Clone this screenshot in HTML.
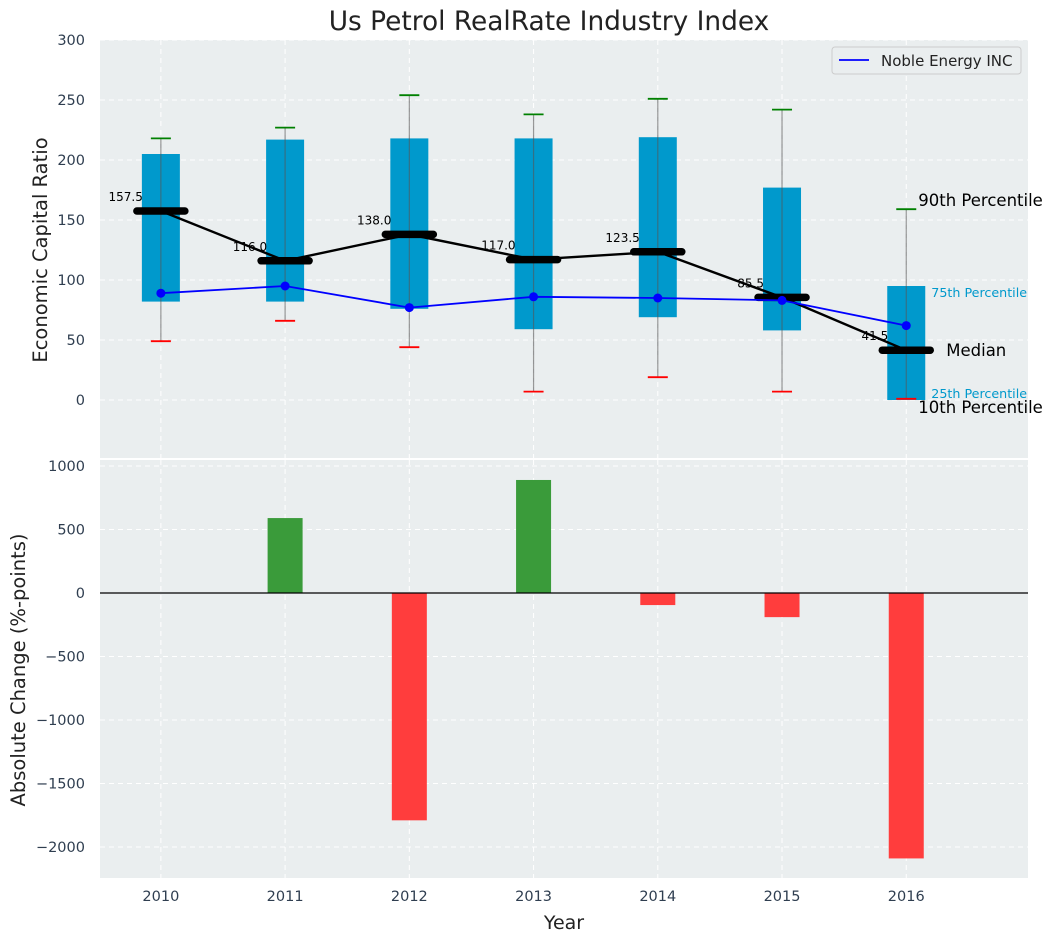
<!DOCTYPE html>
<html><head><meta charset="utf-8"><style>
body{margin:0;background:#fff;}
svg text{font-family:"DejaVu Sans","Liberation Sans",sans-serif;}
</style></head><body>
<svg id="c" width="1053" height="942" xmlns="http://www.w3.org/2000/svg"></svg>
<script>
const years=[2010,2011,2012,2013,2014,2015,2016];
const q25=[82,82,76,59,69,58,0];
const q75=[205,217,218,218,219,177,95];
const p90=[218,227,254,238,251,242,159];
const p10=[49,66,44,7,19,7,1];
const medians=[157.5,116,138,117,123.5,85.5,41.5];
const noble=[89,95,77,86,85,83,62];
const changes=[0,590,-1790,890,-95,-190,-2090];
const topTicks=[0,50,100,150,200,250,300];
const botTicks=[-2000,-1500,-1000,-500,0,500,1000];

const NS="http://www.w3.org/2000/svg";
const svg=document.getElementById('c');
function el(t,a,p){const e=document.createElementNS(NS,t);for(const k in a)e.setAttribute(k,a[k]);(p||svg).appendChild(e);return e;}
const L=100,R=1028;
const x=v=>L+(v-2009.51)*(R-L)/(2016.98-2009.51);
const yT=v=>400-v*1.2;
const yB=v=>593-v*0.127;

let e=el('rect',{x:L,y:40,width:R-L,height:418,fill:'#eaeeef'});

e=el('rect',{x:L,y:460,width:R-L,height:418,fill:'#eaeeef'});


years.forEach(yr=>{
 el('line',{x1:x(yr),x2:x(yr),y1:40,y2:458,stroke:'#fff','stroke-dasharray':'5,4','stroke-width':1});
 el('line',{x1:x(yr),x2:x(yr),y1:460,y2:878,stroke:'#fff','stroke-dasharray':'5,4','stroke-width':1});
 e=el('text',{x:x(yr),y:901,'text-anchor':'middle','font-size':14.5,fill:'#2f3e50'});e.textContent=yr;
 
});
topTicks.forEach(t=>{
 el('line',{x1:L,x2:R,y1:yT(t),y2:yT(t),stroke:'#fff','stroke-dasharray':'5,4'});
 e=el('text',{x:85,y:yT(t)+5,'text-anchor':'end','font-size':14.5,fill:'#2f3e50'});e.textContent=t;
 
});
botTicks.forEach(t=>{
 el('line',{x1:L,x2:R,y1:yB(t),y2:yB(t),stroke:'#fff','stroke-dasharray':'5,4'});
 e=el('text',{x:85,y:yB(t)+5,'text-anchor':'end','font-size':14.5,fill:'#2f3e50'});e.textContent=t<0?'\u2212'+(-t):t;
 
});

years.forEach((yr,i)=>{
 const cx=x(yr),bw=38;
 e=el('rect',{x:cx-bw/2,y:yT(q75[i]),width:bw,height:yT(q25[i])-yT(q75[i]),fill:'#0099cc'});
 
 e=el('line',{x1:cx,x2:cx,y1:yT(p90[i]),y2:yT(p10[i]),stroke:'#555','stroke-opacity':0.6,'stroke-width':1.2});
 
 e=el('line',{x1:cx-10,x2:cx+10,y1:yT(p90[i]),y2:yT(p90[i]),stroke:'green','stroke-width':1.8});
 
 e=el('line',{x1:cx-10,x2:cx+10,y1:yT(p10[i]),y2:yT(p10[i]),stroke:'red','stroke-width':1.8});
 
});
e=el('polyline',{points:years.map((yr,i)=>x(yr)+','+yT(medians[i])).join(' '),fill:'none',stroke:'#000','stroke-width':2.4});

years.forEach((yr,i)=>{
 e=el('line',{x1:x(yr)-24,x2:x(yr)+24,y1:yT(medians[i]),y2:yT(medians[i]),stroke:'#000','stroke-width':7.5,'stroke-linecap':'round'});
 
 e=el('text',{x:x(yr)-18,y:yT(medians[i])-10,'text-anchor':'end','font-size':12,fill:'#000'});e.textContent=medians[i].toFixed(1);
 
});
e=el('polyline',{points:years.map((yr,i)=>x(yr)+','+yT(noble[i])).join(' '),fill:'none',stroke:'#0000ff','stroke-width':1.8});

years.forEach((yr,i)=>{e=el('circle',{cx:x(yr),cy:yT(noble[i]),r:4.5,fill:'#0000ff'});
 });

const last=6,lx=x(years[last]);
[['90th Percentile',lx+12,yT(p90[last])-3,16.5,'#000'],['75th Percentile',lx+25,yT(q75[last])+11,12.7,'#0099cc'],
 ['Median',lx+40,yT(medians[last])+6,16.5,'#000'],['25th Percentile',lx+25,yT(q25[last])-2,12.7,'#0099cc'],
 ['10th Percentile',lx+12,yT(p10[last])+14,16.5,'#000']].forEach(a=>{
 e=el('text',{x:a[1],y:a[2],'font-size':a[3],fill:a[4]});e.textContent=a[0];
 
});

const lg=el('g',{});

el('rect',{x:832,y:47,width:189,height:27,fill:'#eaeeef',stroke:'#ccc',rx:3},lg);
el('line',{x1:839,x2:869,y1:60,y2:60,stroke:'#0000ff','stroke-width':1.8},lg);
e=el('text',{x:881,y:66,'font-size':15,fill:'#222'},lg);e.textContent='Noble Energy INC';

years.forEach((yr,i)=>{
 const v=changes[i];if(v===0)return;
 e=el('rect',{x:x(yr)-17.5,y:Math.min(yB(v),yB(0)),width:35,height:Math.abs(yB(v)-yB(0)),fill:v>0?'#3a9b3a':'#ff3d3d'});
 
});
e=el('line',{x1:L,x2:R,y1:yB(0),y2:yB(0),stroke:'#000','stroke-width':1.2});


e=el('text',{x:549,y:30,'text-anchor':'middle','font-size':26.4,fill:'#222'});e.textContent='Us Petrol RealRate Industry Index';

e=el('text',{x:47,y:250,'text-anchor':'middle','font-size':19.5,fill:'#222',transform:'rotate(-90 47 250)'});e.textContent='Economic Capital Ratio';

e=el('text',{x:25,y:670,'text-anchor':'middle','font-size':19.5,fill:'#222',transform:'rotate(-90 25 670)'});e.textContent='Absolute Change (%-points)';

e=el('text',{x:564,y:929,'text-anchor':'middle','font-size':19,fill:'#222'});e.textContent='Year';

</script>
</body></html>
